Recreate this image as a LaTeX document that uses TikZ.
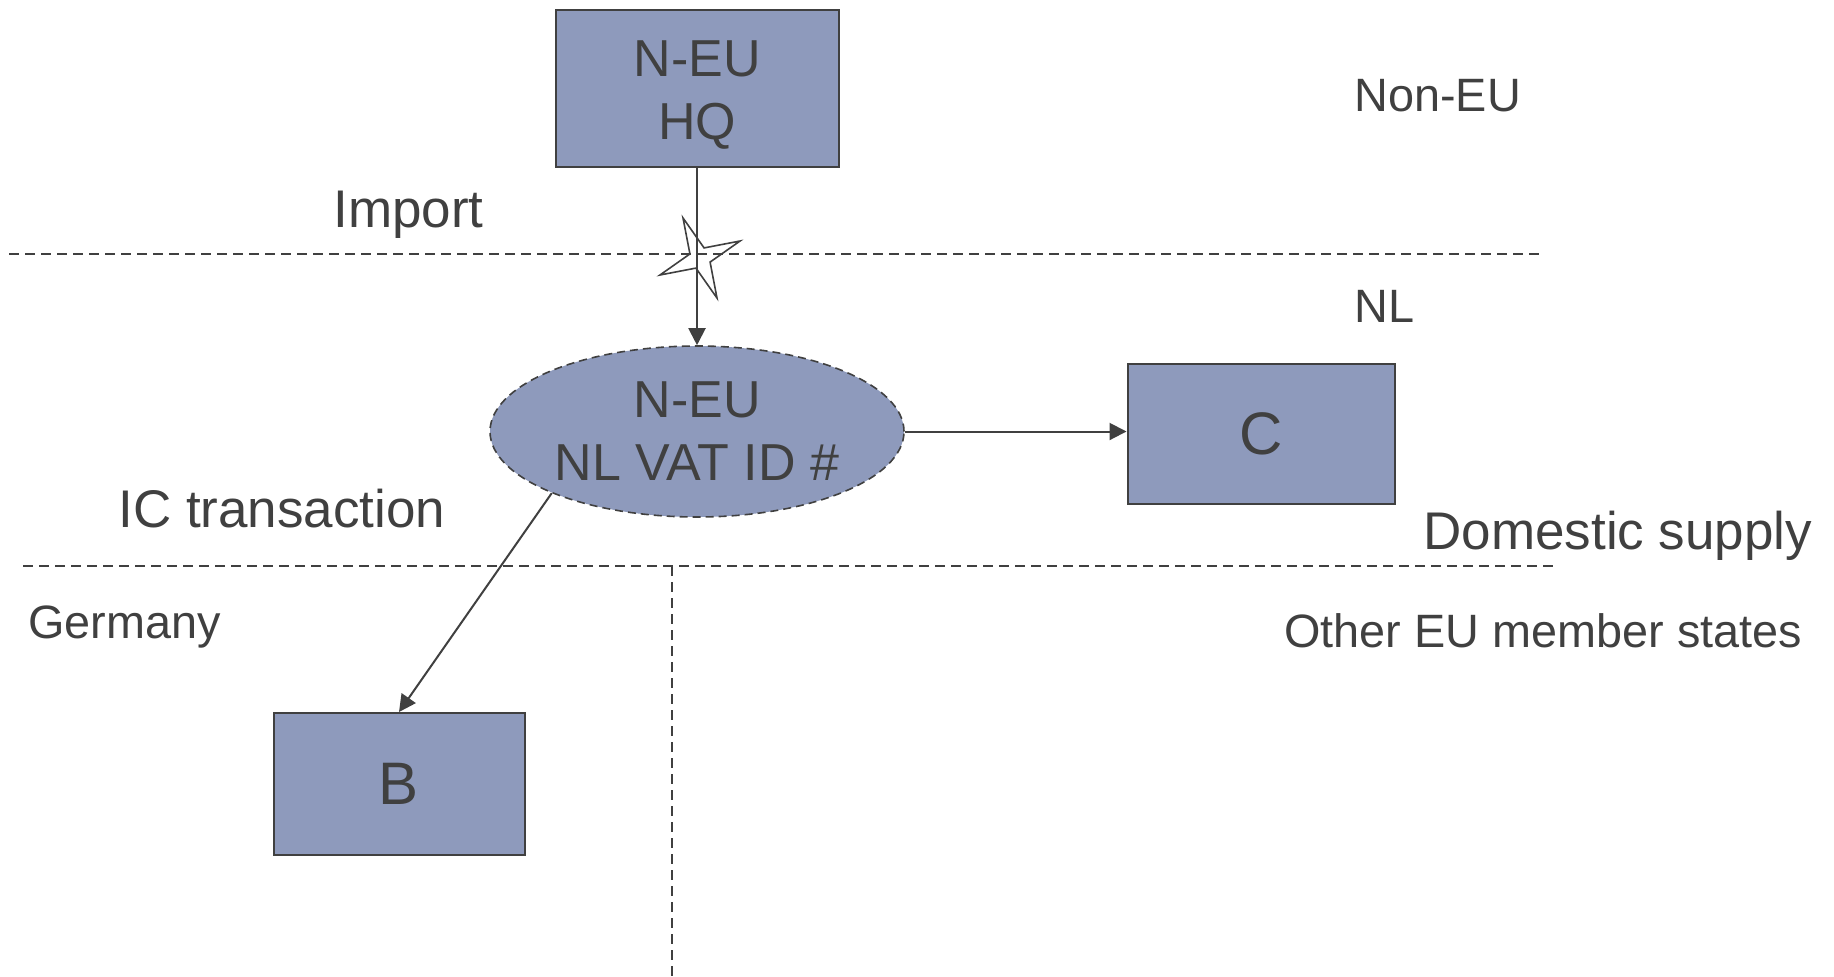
\documentclass[tikz,border=0pt]{standalone}
\usepackage{fontspec}
\setmainfont{Liberation Sans}
\usepackage{tikz}
\usetikzlibrary{arrows.meta,shapes.geometric,positioning}
\definecolor{vatfill}{RGB}{142,154,188}
\definecolor{vatink}{RGB}{64,64,64}

\begin{document}
\begin{tikzpicture}[
  x=0.5pt, y=-0.5pt,
  every node/.style={text=vatink},
  party/.style={rectangle, draw=vatink, fill=vatfill, line width=1pt,
                inner sep=0pt, align=center,
                font=\fontsize{26}{31.5}\selectfont},
  entity/.style={ellipse, draw=vatink, fill=vatfill, line width=0.8pt,
                 dash pattern=on 4pt off 2.5pt, inner sep=0pt, align=center,
                 minimum width=207pt, minimum height=85.5pt,
                 font=\fontsize{26}{31.5}\selectfont},
  zone/.style={font=\fontsize{23.4}{28}\selectfont, inner sep=0pt},
  flow/.style={font=\fontsize{26.5}{31}\selectfont, inner sep=0pt},
  divider/.style={draw=vatink, line width=0.8pt, dash pattern=on 5pt off 3pt},
  arrow/.style={-{Triangle[length=8.5pt,width=8.5pt]}, draw=vatink, line width=1pt},
]
\useasboundingbox (0,0) rectangle (1834,976);

%% -- Borders ---------------------------------------------------------
\coordinate (imp-w) at (9,254);
\coordinate (imp-e) at (1544,254);
\coordinate (ic-w)  at (23,566);
\coordinate (ic-m)  at (672,566);
\coordinate (ic-e)  at (1556,566);
\coordinate (ic-s)  at (672,976);
\draw[divider] (imp-w) -- (imp-e);
\draw[divider] (ic-w) -- (ic-e);
\draw[divider] (ic-m) -- (ic-s);

%% -- Parties ---------------------------------------------------------
\node[party, minimum width=141.5pt, minimum height=78.5pt] (hq) at (697,88)
  {\rule{0pt}{24.5pt}N-EU\\HQ};
\node[entity] (vat) at (697,431.5) {N-EU\\NL VAT ID \#};
\node[party, minimum width=133.5pt, minimum height=70pt,
      font=\fontsize{30}{36}\selectfont] (c) at (1261,433.5) {C};
\node[party, minimum width=125.5pt, minimum height=71pt,
      font=\fontsize{30}{36}\selectfont] (b) at (399,784) {B};

%% -- Flows -----------------------------------------------------------
\draw[arrow] (hq) -- (vat);
\draw[arrow] (vat.east) -- (vat.east -| c.west);
\draw[arrow] (vat.203) -- (b.north);

%% -- Import marker ---------------------------------------------------
\node[star, star points=4, star point ratio=4, minimum size=43.5pt,
      inner sep=0pt, draw=vatink, line width=0.8pt, rotate=23] (cross) at (700,258) {};

%% -- Labels ----------------------------------------------------------
\node[zone, anchor=base west] (noneu) at (1354,111) {Non-EU};
\node[zone, anchor=base west] (nl) at (1354,322.5) {NL};
\node[zone, anchor=base west] (de) at (28,638.5) {Germany};
\node[zone, anchor=base west] (oms) at (1284,647.5) {Other EU member states};
\node[flow, anchor=base west] (import) at (333,227.5) {Import};
\node[flow, anchor=base west] (ictx) at (118,527.5) {IC transaction};
\node[flow, anchor=base west] (dom) at (1423,549) {Domestic supply};

\end{tikzpicture}
\end{document}
